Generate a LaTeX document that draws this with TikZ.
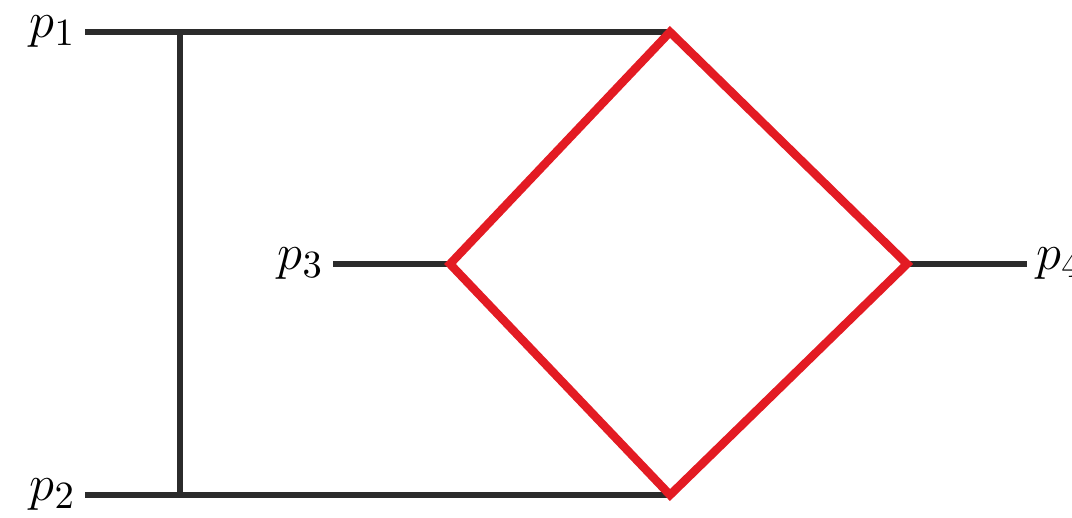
\documentclass[tikz,border=0pt]{standalone}
\usepackage{tikz}
\definecolor{lineblack}{HTML}{2B2B2B}
\definecolor{loopred}{HTML}{E31B23}
\begin{document}
\begin{tikzpicture}[x=1cm, y=1cm, font=\fontsize{15}{17}\selectfont]
        \tikzset{prop/.style={draw=lineblack, line width=1.6pt},
                 loop/.style={draw=loopred, line width=2.4pt, line join=miter},
                 leg/.style={inner sep=2.5pt}}
        \useasboundingbox (0,0) rectangle (10.72,5.17);
        % external labels
        \node[leg, anchor=east] (p1) at (0.85,4.85) {$p_1$};
        \node[leg, anchor=east] (p2) at (0.85,0.22) {$p_2$};
        \node[leg, anchor=east] (p3) at (3.33,2.53) {$p_3$};
        \node[leg, anchor=west] (p4) at (10.27,2.53) {$p_4$};
        % vertices
        \coordinate (a) at (1.80,4.85);
        \coordinate (b) at (1.80,0.22);
        \coordinate (top) at (6.70,4.85);
        \coordinate (bot) at (6.70,0.22);
        \coordinate (left) at (4.50,2.53);
        \coordinate (right) at (9.07,2.53);

        \draw[prop] (p1.east) -- (a) -- (top);
        \draw[prop] (p2.east) -- (b) -- (bot);
        \draw[prop] (a) -- (b);
        \draw[prop] (p3.east) -- (left);
        \draw[prop] (right) -- (p4.west);
        \draw[loop] (top) -- (right) -- (bot) -- (left) -- cycle;
    \end{tikzpicture}
\end{document}
